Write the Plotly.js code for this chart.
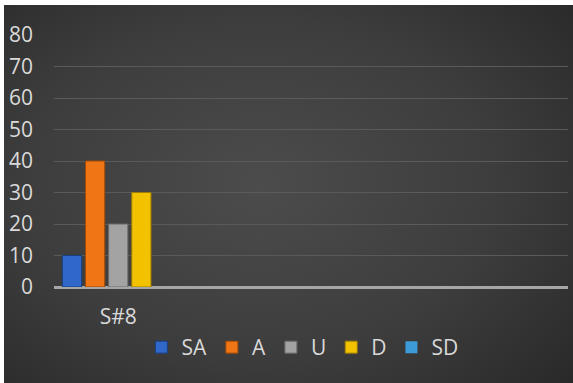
<!DOCTYPE html>
<html>
<head>
<meta charset="utf-8">
<script src="https://cdn.plot.ly/plotly-3.0.1.min.js"></script>
<style>
  html, body { margin: 0; padding: 0; background: #ffffff; width: 573px; height: 383px; overflow: hidden; }
  #chart {
    position: absolute; left: 4px; top: 5px; width: 569px; height: 378px;
    background: radial-gradient(ellipse 75% 80% at 45% 48%, #4c4c4c 0%, #3d3d3d 55%, #282828 100%);
  }
</style>
</head>
<body>
<div id="chart"></div>
<script>
// Data
const categories = ["S#8"];
const seriesNames = ["SA", "A", "U", "D", "SD"];
const seriesSA = [10];
const seriesA = [40];
const seriesU = [20];
const seriesD = [30];
const seriesSD = [0];
const yTickVals = [0, 10, 20, 30, 40, 50, 60, 70, 80];

const seriesValues = [seriesSA, seriesA, seriesU, seriesD, seriesSD];
const colors = ["#2f68c8", "#f07514", "#a3a3a3", "#f2c200", "#3c9ad8"];
const lineColors = ["#1c3f80", "#a04a08", "#6a6a6a", "#a07e00", "#1f5f8f"];
const lineWidths = [1, 1, 1, 1, 0];

const traces = seriesNames.map((name, i) => ({
  type: "bar",
  name: name,
  x: categories,
  y: seriesValues[i],
  marker: { color: colors[i], line: { color: lineColors[i], width: lineWidths[i] } },
  hoverinfo: "x+y+name"
}));

const layout = {
  width: 569,
  height: 378,
  paper_bgcolor: "rgba(0,0,0,0)",
  plot_bgcolor: "rgba(0,0,0,0)",
  margin: { l: 50, r: 5, t: 30, b: 96 },
  font: { family: "Open Sans, sans-serif", color: "#d9d9d9", size: 21 },
  barmode: "group",
  bargap: 0.10,
  bargroupgap: 0.17,
  showlegend: true,
  legend: {
    orientation: "h",
    x: 0.17, xanchor: "left",
    y: -0.24, yanchor: "middle",
    font: { size: 21, color: "#d9d9d9" },
    itemwidth: 30,
    tracegroupgap: 0,
    traceorder: "normal"
  },
  xaxis: {
    type: "category",
    range: [-0.5, 3.5],
    showgrid: false,
    zeroline: false,
    showline: false,
    ticks: "",
    tickfont: { size: 21, color: "#d9d9d9" },
    ticklabelstandoff: 15,
    fixedrange: true
  },
  yaxis: {
    range: [0, 80],
    tickvals: yTickVals,
    showgrid: true,
    gridcolor: "#5a5a5a",
    gridwidth: 1,
    zeroline: true,
    zerolinecolor: "#a6a6a6",
    zerolinewidth: 3,
    showline: false,
    ticks: "",
    tickfont: { size: 21, color: "#d9d9d9" },
    ticklabelstandoff: 20,
    fixedrange: true
  }
};

Plotly.newPlot("chart", traces, layout, { displayModeBar: false, staticPlot: true });
</script>
</body>
</html>
